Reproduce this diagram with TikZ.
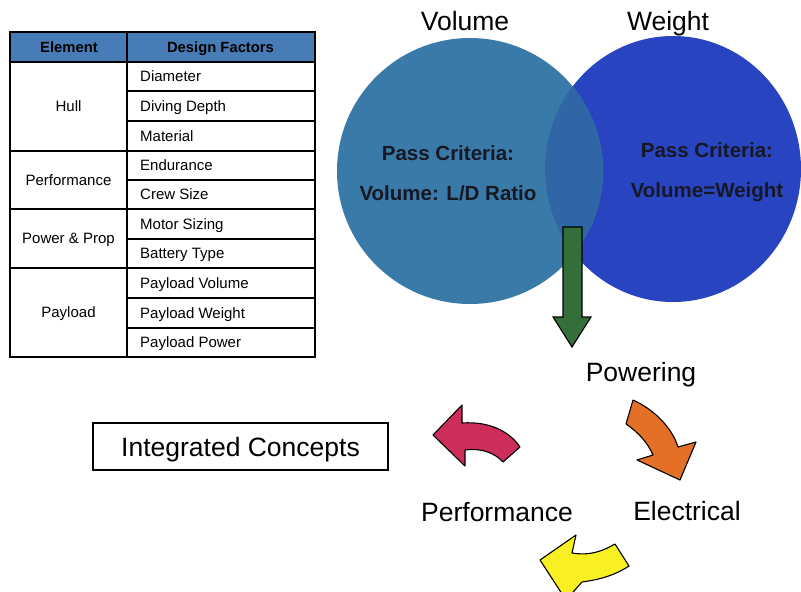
\documentclass[tikz,border=0pt]{standalone}
\usepackage{fontspec}
\setmainfont{Liberation Sans}
\definecolor{headBlue}{RGB}{72,124,182}
\definecolor{volumeTeal}{RGB}{58,122,168}
\definecolor{lensBlue}{RGB}{48,102,166}
\definecolor{weightBlue}{RGB}{40,68,192}
\definecolor{critText}{RGB}{22,24,36}
\definecolor{downGreen}{RGB}{52,110,56}
\definecolor{bentRed}{RGB}{205,45,90}
\definecolor{bentOrange}{RGB}{228,112,40}
\definecolor{bentYellow}{RGB}{248,240,35}
\begin{document}
\begin{tikzpicture}[x=1pt,y=-1pt,
  cell/.style={font=\fontsize{15}{17}\selectfont, inner sep=0pt, text height=10.7pt, text depth=0pt},
  headcell/.style={cell, font=\fontsize{14.8}{17}\selectfont\bfseries},
  big/.style={font=\fontsize{26.5}{30}\selectfont, inner sep=0pt, text height=19pt, text depth=0pt},
  crit/.style={font=\fontsize{20.5}{24}\selectfont\bfseries, text=critText, inner sep=0pt, text height=14.7pt, text depth=0pt},
  rule/.style={line width=1.1pt},
  bent/.style={draw=black, line width=1.1pt, line join=round}]
\useasboundingbox (0,0) rectangle (801,592);
\clip (0,0) rectangle (801,592);

% ---- overlapping criteria circles ----
\fill[weightBlue] (673,169) ellipse [x radius=128, y radius=133];
\fill[volumeTeal] (470,171) circle [radius=133];
\begin{scope}
  \clip (673,169) ellipse [x radius=128, y radius=133];
  \fill[lensBlue] (470,171) circle [radius=133];
\end{scope}

\node[big] (vol) at (465,21) {Volume};
\node[big] (wgt) at (668,21) {Weight};
\node[crit] (pc1) at (448,153) {Pass Criteria:};
\node[crit] (ld)  at (448,193.5) {Volume: L/D Ratio};
\node[crit] (pc2) at (707,150) {Pass Criteria:};
\node[crit] (vw)  at (707,190) {Volume=Weight};

% downward arrow out of the overlap
\filldraw[fill=downGreen, draw=black, line width=1.1pt, line join=miter]
  (563,227) -- (582,227) -- (582,317) -- (591,317) -- (572,347) -- (553,317) -- (563,317) -- cycle;

% ---- design factor table ----
\fill[headBlue] (10,32) rectangle (315,62);
\foreach \yy in {91,121,180,239,298,328}
  \draw[rule] (127,\yy) -- (315,\yy);
\foreach \yy in {62,151,209,268}
  \draw[rule] (10,\yy) -- (315,\yy);
\draw[rule] (127,32) -- (127,357);
\draw[line width=2pt] (10,32) rectangle (315,357);

\node[headcell] (hElem) at (69,47) {Element};
\node[headcell] (hFact) at (220.5,47) {Design Factors};

\node[cell] (eHull) at (68.5,106.5) {Hull};
\node[cell] (ePerf) at (68.5,180) {Performance};
\node[cell] (ePow)  at (68.5,238.5) {Power \& Prop};
\node[cell] (ePay)  at (68.5,312.5) {Payload};

\node[cell, anchor=west] (f1)  at (140,76.5) {Diameter};
\node[cell, anchor=west] (f2)  at (140,106)  {Diving Depth};
\node[cell, anchor=west] (f3)  at (140,136)  {Material};
\node[cell, anchor=west] (f4)  at (140,165.5) {Endurance};
\node[cell, anchor=west] (f5)  at (140,194.5) {Crew Size};
\node[cell, anchor=west] (f6)  at (140,224)  {Motor Sizing};
\node[cell, anchor=west] (f7)  at (140,253.5) {Battery Type};
\node[cell, anchor=west] (f8)  at (140,283)  {Payload Volume};
\node[cell, anchor=west] (f9)  at (140,313)  {Payload Weight};
\node[cell, anchor=west] (f10) at (140,342.5) {Payload Power};

% ---- design cycle ----
\node[big] (pw)  at (641,372) {Powering};
\node[big] (el)  at (687,511) {Electrical};
\node[big] (pf)  at (497,512) {Performance};
\node[big, draw=black, line width=1.2pt, minimum width=295pt, minimum height=47pt, text depth=0pt]
  (ic) at (240.5,446.5) {Integrated Concepts};

% curved arrows of the cycle
\filldraw[bent, fill=bentOrange]
  (633,400) .. controls (655,410) and (672,428) .. (678,447) -- (696,442) -- (680,480)
  -- (637,460) -- (653,455) .. controls (648,443) and (638,432) .. (626,424) -- cycle;
\filldraw[bent, fill=bentRed]
  (433,435) -- (462,405) -- (462,423) .. controls (490,421) and (510,432) .. (520,447)
  -- (503,462) .. controls (494,452) and (480,448) .. (465,450) -- (465,466) -- cycle;
\filldraw[bent, fill=bentYellow]
  (540,560) -- (576,535) -- (572,553) .. controls (590,556) and (603,551) .. (615,544)
  -- (629,566) .. controls (612,577) and (596,580) .. (582,582) -- (566,600) -- cycle;
\end{tikzpicture}
\end{document}
